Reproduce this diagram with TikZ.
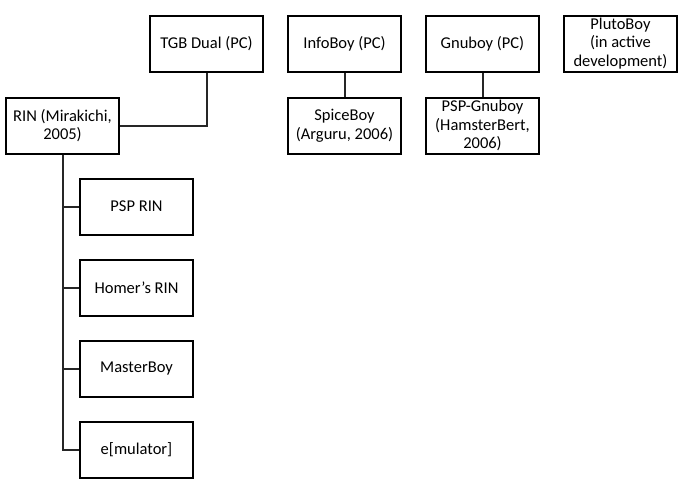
\documentclass[tikz,border=0pt]{standalone}
\usepackage{fontspec}
\setmainfont{Carlito}
\usetikzlibrary{calc}
\tikzset{
  emubox/.style={draw=black, line width=2pt, minimum width=113pt, minimum height=56pt,
    align=center, inner xsep=1pt, inner ysep=0pt, font=\fontsize{16.5}{18.5}\selectfont},
  branch/.style={draw=black!85, line width=2pt}
}

\begin{document}
\begin{tikzpicture}[x=1pt, y=-1pt]
		%%%%% START %%%%%
		\useasboundingbox (0, 0) rectangle (681, 493);
		
		\node[emubox] (tgb) at (206.5, 43.5) {TGB Dual (PC)};
		\node[emubox] (rin) at (62.5, 125.5) {RIN (Mirakichi,\\2005)};
		
		\node[emubox] (info) at (344.5, 43.5) {InfoBoy (PC)};
		\node[emubox] (spice) at (344.5, 125.5) {SpiceBoy\\(Arguru, 2006)};
		
		\node[emubox] (gnu) at (482.5, 43.5) {Gnuboy (PC)};
		\node[emubox] (pspgnu) at (482.5, 125.5) {PSP-Gnuboy\\(HamsterBert,\\2006)};
		
		\node[emubox] (pluto) at (620.5, 43.5) {PlutoBoy\\(in active\\development)};
		
		\node[emubox] (psprin) at (136.5, 206.5) {PSP RIN};
		\node[emubox] (homer) at (136.5, 287.5) {Homer’s RIN};
		\node[emubox] (master) at (136.5, 368.5) {MasterBoy};
		\node[emubox] (emul) at (136.5, 449.5) {e[mulator]};
		
		\draw[branch] (tgb.south) |- (rin.east);
		\draw[branch] (info.south) -- (spice.north);
		\draw[branch] (gnu.south) -- (pspgnu.north);
		
		\draw[branch] (rin.south) |- (emul.west);
		\draw[branch] (rin.south) |- (psprin.west);
		\draw[branch] (rin.south) |- (homer.west);
		\draw[branch] (rin.south) |- (master.west);
		%%%%% END %%%%%
	\end{tikzpicture}
\end{document}
